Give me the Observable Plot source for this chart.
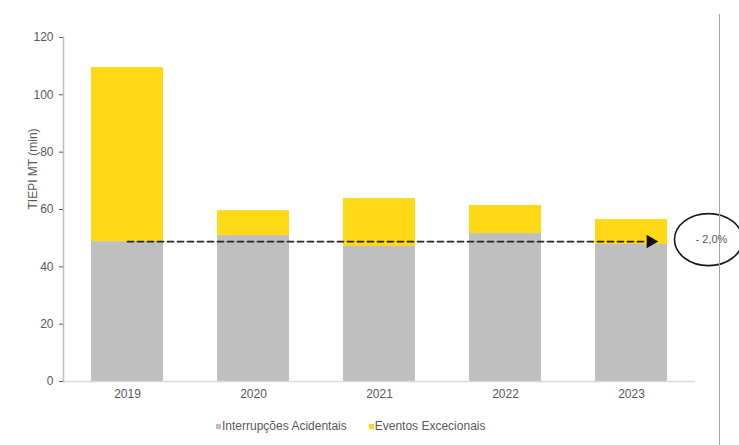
<!DOCTYPE html>
<html>
<head>
<meta charset="utf-8">
<script src="https://cdn.jsdelivr.net/npm/d3@7"></script>
<script src="https://cdn.jsdelivr.net/npm/@observablehq/plot@0.6"></script>
<style>
  body { margin: 0; background: #fff; font-family: "Liberation Sans", Arial, sans-serif; }
  #wrap { position: relative; width: 739px; height: 445px; overflow: hidden; }
  #vline { position: absolute; left: 719px; top: 14px; width: 1px; height: 431px; background: #a6a6a6; }
  #legend { position: absolute; top: 419px; left: 216px; display: flex; gap: 22px; font-size: 12px; color: #595959; }
  #legend span.sw { display: inline-block; width: 5px; height: 5px; margin-right: 1px; vertical-align: middle; }
</style>
</head>
<body>
<div id="wrap">
  <div id="chart"></div>
  <div id="vline"></div>
  <div id="legend"></div>
</div>
<script>
const years = ["2019", "2020", "2021", "2022", "2023"];
const interrupcoes = [48.8, 50.9, 47.1, 51.6, 47.8];
const totals = [109.5, 59.6, 63.8, 61.4, 56.5];
const yTicks = [0, 20, 40, 60, 80, 100, 120];
const seriesNames = ["Interrupções Acidentais", "Eventos Excecionais"];
const seriesColors = ["#bfbfbf", "#ffd916"];
const trendLevel = 48.8;
const trendLabel = "- 2,0%";
const yLabel = "TIEPI MT (min)";

const table = [];
years.forEach((yr, i) => {
  table.push({year: yr, series: seriesNames[0], value: interrupcoes[i]});
  table.push({year: yr, series: seriesNames[1], value: +(totals[i] - interrupcoes[i]).toFixed(1)});
});

const ellipseSymbol = {
  draw(context) {
    const rx = 34, ry = 26, k = 0.5523;
    context.moveTo(rx, 0);
    context.bezierCurveTo(rx, ry * k, rx * k, ry, 0, ry);
    context.bezierCurveTo(-rx * k, ry, -rx, ry * k, -rx, 0);
    context.bezierCurveTo(-rx, -ry * k, -rx * k, -ry, 0, -ry);
    context.bezierCurveTo(rx * k, -ry, rx, -ry * k, rx, 0);
    context.closePath();
  }
};

const chart = Plot.plot({
  width: 739,
  height: 410,
  marginLeft: 63,
  marginRight: 44,
  marginTop: 37,
  marginBottom: 29,
  style: {fontFamily: "Liberation Sans, Arial, sans-serif", fontSize: "12px", color: "#595959", background: "transparent"},
  x: {domain: years, paddingInner: 0.426, paddingOuter: 0.22, label: null, tickSize: 0, tickPadding: 8},
  y: {domain: [0, 120], ticks: yTicks, label: null, tickSize: 4, tickPadding: 6},
  color: {domain: seriesNames, range: seriesColors},
  marks: [
    Plot.barY(table, {x: "year", y: "value", fill: "series", order: seriesNames}),
    Plot.ruleY([0], {stroke: "#d9d9d9", strokeWidth: 1.5}),
    Plot.frame({anchor: "left", stroke: "#bfbfbf", strokeWidth: 1.5}),
    Plot.text([yLabel], {frameAnchor: "left", rotate: -90, dx: -30, fill: "#595959", fontSize: 12}),
    Plot.arrow([trendLevel], {
      x1: () => years[0], x2: () => years[years.length - 1],
      y1: d => d, y2: d => d,
      insetEnd: -16, headLength: 0,
      stroke: "#262626", strokeWidth: 1.8, strokeDasharray: "6,4"
    }),
    Plot.dot([trendLevel], {x: () => years[years.length - 1], y: d => d, dx: 19, symbol: "triangle", rotate: 90, r: 5, fill: "#111", stroke: "none"}),
    Plot.dot([trendLevel], {x: () => years[years.length - 1], y: d => d, dx: 77, dy: -2, symbol: ellipseSymbol, fill: "none", stroke: "#1a1a1a", strokeWidth: 1.6}),
    Plot.text([trendLabel], {x: () => years[years.length - 1], y: () => trendLevel, dx: 80, dy: -2, fill: "#595959", fontSize: 11})
  ]
});
document.getElementById("chart").appendChild(chart);

const legend = document.getElementById("legend");
seriesNames.forEach((name, i) => {
  const item = document.createElement("div");
  item.innerHTML = `<span class="sw" style="background:${seriesColors[i]}"></span>${name}`;
  legend.appendChild(item);
});
</script>
</body>
</html>
